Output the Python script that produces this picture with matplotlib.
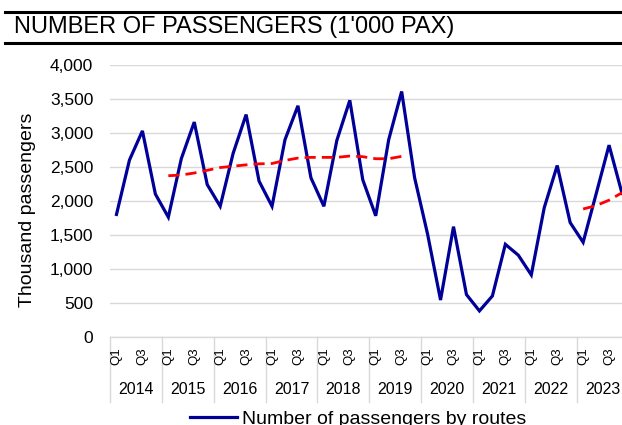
import matplotlib
matplotlib.use("Agg")
import matplotlib.pyplot as plt
from matplotlib.lines import Line2D
import matplotlib.transforms as mtransforms
import numpy as np

plt.rcParams['font.family'] = ['Liberation Sans', 'DejaVu Sans']

years = ["2014", "2015", "2016", "2017", "2018", "2019", "2020", "2021", "2022", "2023"]
quarters = ["Q1", "Q2", "Q3", "Q4"]
passengers = [1800, 2600, 3030, 2100,
              1760, 2620, 3160, 2240,
              1920, 2700, 3270, 2290,
              1920, 2900, 3400, 2340,
              1920, 2890, 3480, 2310,
              1780, 2900, 3610, 2340,
              1510, 540, 1620, 620,
              380, 600, 1360, 1200,
              910, 1900, 2520, 1680,
              1390, 2100, 2820, 2110]
# trend (dashed red): 2015Q1..2019Q3 and 2023Q1..2023Q4
trend_a_start = 4
trend_a = [2370, 2380, 2410, 2450, 2490, 2510, 2530, 2545, 2550, 2595,
           2630, 2640, 2640, 2640, 2660, 2650, 2620, 2620, 2655]
trend_b_start = 36
trend_b = [1880, 1930, 2010, 2120]
yticks = [0, 500, 1000, 1500, 2000, 2500, 3000, 3500, 4000]

W, H = 622, 425
fig = plt.figure(figsize=(W / 100, H / 100), dpi=100)
left, right, top, bottom = 110, 628.5, 65, 336.7
ax = fig.add_axes([left / W, 1 - bottom / H, (right - left) / W, (bottom - top) / H])

x = np.arange(len(passengers))
blue = '#000099'
ax.plot(x, passengers, color=blue, lw=2.3, solid_joinstyle='miter', zorder=3)
xa = np.arange(trend_a_start, trend_a_start + len(trend_a))
xb = np.arange(trend_b_start, trend_b_start + len(trend_b))
for xx, yy in [(xa, trend_a), (xb, trend_b)]:
    ax.plot(xx, yy, color='#FF0000', lw=2.0, dashes=(4, 2.2), zorder=4)

ax.set_xlim(-0.5, len(passengers) - 0.5)
ax.set_ylim(0, 4000)
ax.set_yticks(yticks)
ax.set_yticklabels([f"{v:,}" for v in yticks], fontsize=12.5)
ax.tick_params(axis='y', length=0, pad=12)
ax.set_xticks([])
ax.grid(axis='y', color='#d9d9d9', lw=1)
ax.set_axisbelow(True)
for s in ['left', 'right', 'top']:
    ax.spines[s].set_visible(False)
ax.spines['bottom'].set_color('#d9d9d9')
ax.spines['bottom'].set_linewidth(1)

trans = mtransforms.blended_transform_factory(ax.transData, ax.transAxes)
plot_h = bottom - top
def ay(py):
    return -(py - bottom) / plot_h

# year separators
for k in range(len(years) + 1):
    ax.plot([4 * k - 0.5, 4 * k - 0.5], [0, ay(402)], color='#d9d9d9', lw=1,
            transform=trans, clip_on=False)
# quarter labels
for i in range(len(passengers)):
    q = quarters[i % 4]
    if q in ("Q1", "Q3"):
        ax.text(i, ay(356.5), q, rotation=90, ha='center', va='center',
                fontsize=9.5, transform=trans)
# year labels
for k, yr in enumerate(years):
    ax.text(4 * k + 1.5, ay(390), yr, ha='center', va='center', fontsize=11.5,
            transform=trans)

# y label
fig.text(28 / W, 1 - 210 / H, "Thousand passengers", rotation=90, ha='center',
         va='center', fontsize=14)

# title and rules
fig.text(14 / W, 1 - 33.5 / H, "NUMBER OF PASSENGERS (1'000 PAX)", ha='left',
         va='baseline', fontsize=17)
for yy in (11.5, 42.5):
    fig.add_artist(Line2D([5 / W, 1], [1 - yy / H, 1 - yy / H], color='black',
                          lw=2.2, transform=fig.transFigure))

# legend
handle = Line2D([], [], color=blue, lw=2.3)
fig.legend([handle], ["Number of passengers by routes"], loc='lower left',
           bbox_to_anchor=(190 / W, -3 / H), frameon=False, fontsize=14,
           borderpad=0, borderaxespad=0, handlelength=2.4, handletextpad=0.25)

fig.savefig("out.png", dpi=100)
